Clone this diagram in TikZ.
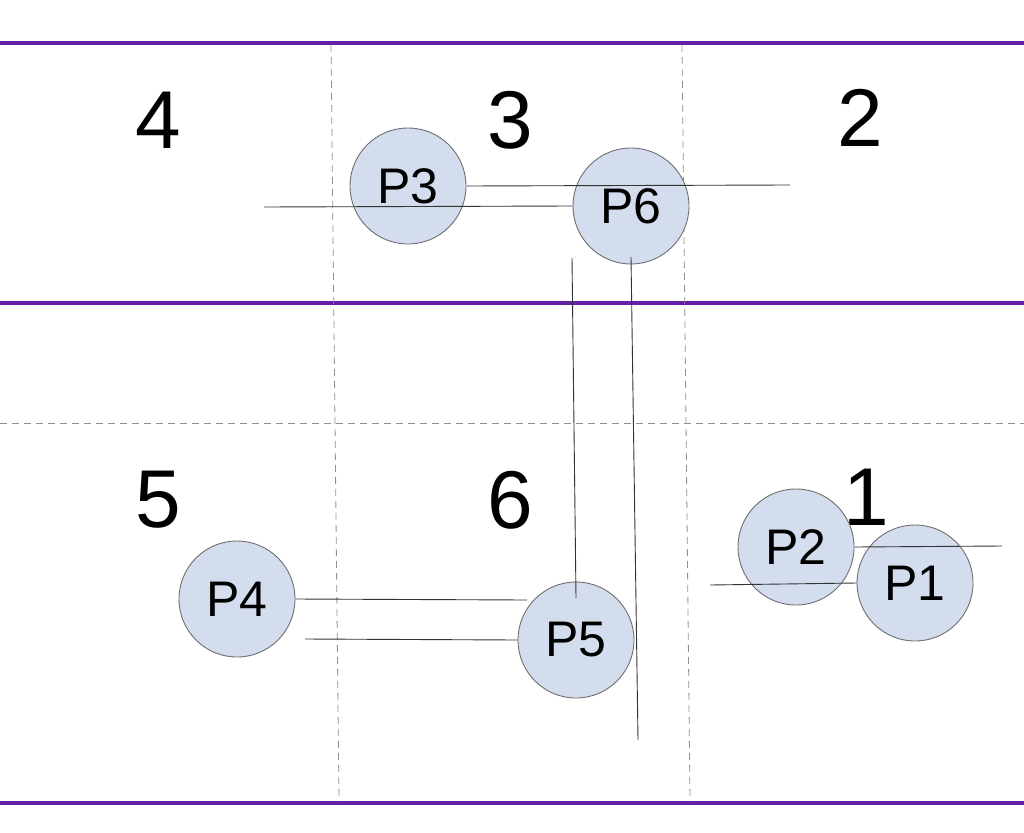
\documentclass[tikz,border=0pt]{standalone}
\usepackage{fontspec}
\setmainfont{Liberation Sans}
\definecolor{band}{HTML}{6320A6}
\definecolor{pfill}{HTML}{D4DDEE}
\definecolor{pedge}{HTML}{6E6E6E}
\definecolor{grid}{HTML}{8E9488}
\begin{document}
\begin{tikzpicture}[x=1pt,y=-1pt,
  proc/.style={circle,draw=pedge,line width=0.9pt,fill=pfill,minimum size=116pt,inner sep=0pt,
    font=\fontsize{50}{50}\selectfont},
  zone/.style={font=\fontsize{82}{82}\selectfont,inner sep=0pt},
  bandline/.style={draw=band,line width=3.5pt},
  gridline/.style={draw=grid,line width=0.8pt,dash pattern=on 7pt off 5pt},
  link/.style={draw=black!80,line width=0.9pt}]
\useasboundingbox (0,0) rectangle (1024,832);
% band lines
\draw[bandline] (0,43) -- (1024,43);
\draw[bandline] (0,303) -- (1024,303);
\draw[bandline] (0,803) -- (1024,803);
% grid
\draw[gridline] (331,45) -- (339,801);
\draw[gridline] (682,45) -- (690,801);
\draw[gridline] (0,423) -- (1024,423);
% zone numbers
\node[zone] (z4) at (158,120) {4};
\node[zone] (z3) at (510,120) {3};
\node[zone] (z2) at (860,118) {2};
\node[zone] (z5) at (158,500) {5};
\node[zone] (z6) at (510,500) {6};
\node[zone] (z1) at (866,497) {1};
% processes
\node[proc] (P3) at (408,186) {P3};
\node[proc] (P6) at (631,206) {P6};
\node[proc] (P2) at (796,547) {P2};
\node[proc] (P1) at (915,583) {P1};
\node[proc] (P4) at (237,599) {P4};
\node[proc] (P5) at (576,640) {P5};
% free ends
\coordinate (e1) at (790,185);
\coordinate (e2) at (264,207);
\coordinate (e3) at (572,258);
\coordinate (e3b) at (576,598);
\coordinate (e4a) at (631,257);
\coordinate (e4) at (638,740);
\coordinate (e5) at (527,600);
\coordinate (e6) at (305,639);
\coordinate (e7) at (1002,546);
\coordinate (e8) at (710,585);
% links
\draw[link] (P3.east) -- (e1);
\draw[link] (e2) -- (P6.west);
\draw[link] (e3) -- (e3b);
\draw[link] (e4a) -- (e4);
\draw[link] (P4.east) -- (e5);
\draw[link] (e6) -- (P5.west);
\draw[link] (P2.east) -- (e7);
\draw[link] (e8) -- (P1.west);
\end{tikzpicture}
\end{document}
